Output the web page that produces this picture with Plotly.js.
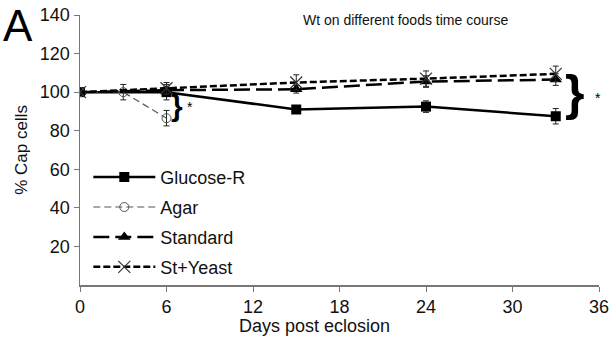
<!DOCTYPE html>
<html>
<head>
<meta charset="utf-8">
<script src="https://cdn.plot.ly/plotly-3.0.1.min.js"></script>
<style>html,body{margin:0;padding:0;background:#fff;}#chart{width:610px;height:345px;}</style>
</head>
<body>
<div id="chart"></div>
<script>
// Data
const glucoseDays = [0, 6, 15, 24, 33];
const glucoseVals = [100, 100, 91, 92.5, 87.5];
const glucoseErr  = [2, 4, 2, 3, 4];

const agarDays = [0, 3, 6];
const agarVals = [100, 100, 86.5];
const agarErr  = [1, 4, 4];

const standardDays = [0, 6, 15, 24, 33];
const standardVals = [100, 101, 101.5, 105.5, 106.5];
const standardErr  = [1, 2, 2, 3, 3];

const yeastDays = [0, 6, 15, 24, 33];
const yeastVals = [100, 102, 105, 107, 109.5];
const yeastErr  = [1, 3, 4, 4, 4];

const xTicks = [0, 6, 12, 18, 24, 30, 36];
const yTicks = [20, 40, 60, 80, 100, 120, 140];

const FONT = 'Liberation Sans, Arial, sans-serif';
const errStyle = (arr) => ({type: 'data', array: arr, visible: true, color: '#222', thickness: 1, width: 3});

const traces = [
  {
    name: 'Glucose-R', legendgroup: 'g1', x: glucoseDays, y: glucoseVals, error_y: errStyle(glucoseErr),
    mode: 'lines+markers', line: {color: '#000', width: 2.5},
    marker: {symbol: 'square', size: 10, color: '#000'}
  },
  {
    name: 'Agar', legendgroup: 'g2', x: agarDays, y: agarVals, error_y: errStyle(agarErr),
    mode: 'lines+markers', line: {color: '#555', width: 1.2, dash: '7px,4px'},
    marker: {symbol: 'circle-open', size: 9, color: '#555', line: {width: 1}}
  },
  {
    name: 'Standard', legendgroup: 'g3', x: standardDays, y: standardVals, error_y: errStyle(standardErr),
    mode: 'lines+markers', line: {color: '#000', width: 2.5, dash: '16px,6px'},
    marker: {symbol: 'triangle-up', size: 11, color: '#000'}
  },
  {
    name: 'St+Yeast', legendgroup: 'g4', x: yeastDays, y: yeastVals, error_y: errStyle(yeastErr),
    mode: 'lines+markers', line: {color: '#000', width: 2.5, dash: '7px,3px'},
    marker: {symbol: 'x-thin-open', size: 12, color: '#333', line: {width: 1.2, color: '#333'}}
  }
];

const layout = {
  width: 610, height: 345,
  margin: {l: 80, r: 11, t: 15, b: 60},
  paper_bgcolor: '#fff', plot_bgcolor: '#fff',
  font: {family: FONT, color: '#111', size: 18},
  showlegend: true,
  legend: {
    x: 0.016, y: 0.467, xanchor: 'left', yanchor: 'top',
    bgcolor: 'rgba(0,0,0,0)', font: {family: FONT, size: 18, color: '#111'},
    tracegroupgap: 3.5, itemwidth: 62
  },
  xaxis: {
    range: [0, 36], tickvals: xTicks, ticktext: xTicks.map(String),
    showgrid: false, zeroline: false, showline: true, linecolor: '#777', linewidth: 1.5,
    ticks: 'outside', ticklen: 5, tickcolor: '#777',
    tickfont: {family: FONT, size: 18, color: '#111'}
  },
  yaxis: {
    range: [0, 140], tickvals: yTicks, ticktext: yTicks.map(String),
    showgrid: false, zeroline: false, showline: true, linecolor: '#777', linewidth: 1.5,
    ticks: 'outside', ticklen: 5, tickcolor: '#777',
    tickfont: {family: FONT, size: 18, color: '#111'},
    title: {text: '% Cap cells', font: {family: FONT, size: 17, color: '#111'}, standoff: 8}
  },
  annotations: [
    {text: 'Days post eclosion', xref: 'paper', yref: 'paper', x: 0.451, y: -0.152,
     xanchor: 'center', yanchor: 'middle', showarrow: false, font: {family: FONT, size: 18, color: '#111'}},
    {text: 'A', xref: 'paper', yref: 'paper', x: -0.152, y: 1.06, xanchor: 'left', yanchor: 'top',
     showarrow: false, font: {family: FONT, size: 44, color: '#000'}},
    {text: 'Wt on different foods time course', xref: 'paper', yref: 'paper', x: 0.628, y: 0.98,
     xanchor: 'center', yanchor: 'middle', showarrow: false, font: {family: FONT, size: 14, color: '#111'}},
    {text: '<b>}</b>', xref: 'x', yref: 'y', x: 6.7, y: 93, xanchor: 'center', yanchor: 'middle',
     showarrow: false, font: {family: FONT, size: 30, color: '#000'}},
    {text: '*', xref: 'x', yref: 'y', x: 7.6, y: 92.5, xanchor: 'center', yanchor: 'middle',
     showarrow: false, font: {family: FONT, size: 14, color: '#000'}},
    {text: '<b>}</b>', xref: 'x', yref: 'y', x: 34.3, y: 99.5, xanchor: 'center', yanchor: 'middle',
     showarrow: false, font: {family: FONT, size: 50, color: '#000'}},
    {text: '*', xref: 'x', yref: 'y', x: 35.9, y: 97, xanchor: 'center', yanchor: 'middle',
     showarrow: false, font: {family: FONT, size: 14, color: '#000'}}
  ]
};

Plotly.newPlot('chart', traces, layout, {displayModeBar: false, staticPlot: true});
</script>
</body>
</html>
